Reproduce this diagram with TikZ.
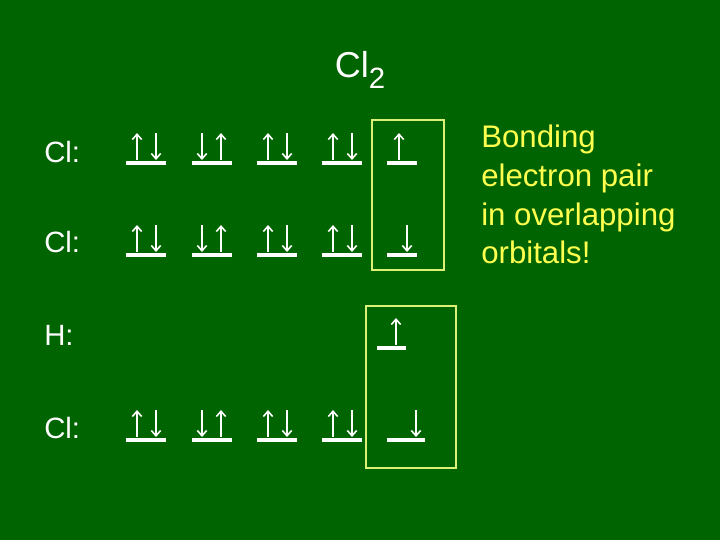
\documentclass[tikz,border=0pt]{standalone}
\usepackage{fontspec}
\setmainfont{Liberation Sans}
\definecolor{board}{RGB}{0,100,0}
\definecolor{boxline}{RGB}{220,240,120}
\definecolor{note}{RGB}{255,255,80}
\tikzset{
  bar/.style={white, line width=2.6pt},
  spin/.style={white, line width=1.2pt, -{Straight Barb[length=4pt,width=7pt]}},
  lbl/.style={white, font=\fontsize{22}{26}\selectfont, inner sep=0pt},
  frame/.style={boxline, line width=0.8pt}
}
\usetikzlibrary{arrows.meta}
% up / down electron over a bar, x is the arrow position, y the bar level
\newcommand{\upe}[2]{\draw[spin] (#1,#2-3) -- (#1,#2-30);}
\newcommand{\dne}[2]{\draw[spin] (#1,#2-30) -- (#1,#2-3);}
\newcommand{\pair}[2]{\draw[bar] (#1,#2) -- ++(40,0); \upe{#1+11}{#2} \dne{#1+30}{#2}}
\newcommand{\riap}[2]{\draw[bar] (#1,#2) -- ++(40,0); \dne{#1+10}{#2} \upe{#1+29}{#2}}
\begin{document}
\begin{tikzpicture}[x=0.75pt, y=-0.75pt]
  \fill[board] (0,0) rectangle (720,540);
  \node[white, font=\fontsize{27}{30}\selectfont] (title) at (360,70)
    {Cl\raisebox{-0.3em}{\fontsize{22}{24}\selectfont 2}};

  \node[lbl, anchor=west] (cl1) at (44,152) {Cl:};
  \node[lbl, anchor=west] (cl2) at (44,242) {Cl:};
  \node[lbl, anchor=west] (h) at (44,335) {H:};
  \node[lbl, anchor=west] (cl3) at (44,428) {Cl:};

  \foreach \y in {163,255,440} {
    \pair{126}{\y}
    \riap{192}{\y}
    \pair{257}{\y}
    \pair{322}{\y}
  }
  \draw[bar] (387,163) -- (417,163); \upe{399}{163}
  \draw[bar] (387,255) -- (417,255); \dne{407}{255}
  \draw[bar] (377,348) -- (406,348); \upe{396}{348}
  \draw[bar] (387,440) -- (425,440); \dne{416}{440}

  \draw[frame] (372,120) rectangle (444,270);
  \draw[frame] (366,306) rectangle (456,468);

  \node[note, anchor=north west, align=left, inner sep=0pt,
        font=\fontsize{23.4}{29}\selectfont] (text) at (481,125)
        {Bonding\\electron pair\\in overlapping\\orbitals!};
\end{tikzpicture}
\end{document}
